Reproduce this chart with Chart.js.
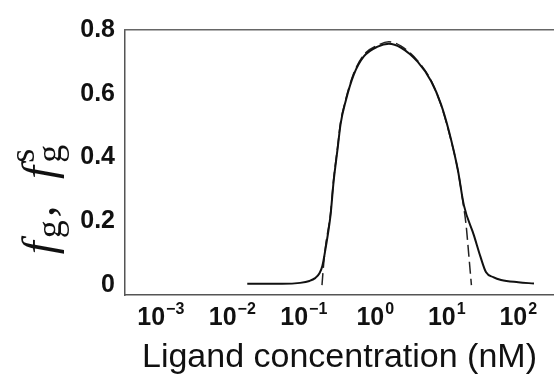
<!DOCTYPE html>
<html>
<head>
<meta charset="utf-8">
<script src="https://cdn.jsdelivr.net/npm/chart.js@4.4.0/dist/chart.umd.min.js"></script>
<style>
  html, body { margin: 0; padding: 0; background: #fff; }
  #wrap { width: 554px; height: 390px; }
</style>
</head>
<body>
<div id="wrap"><canvas id="bandChart" width="554" height="390"></canvas></div>
<script>
// log10 of ligand concentration (nM) and fraction values
const solidLogX = [-1.79, -1.3, -1.05, -0.92, -0.84, -0.78, -0.74, -0.695, -0.625, -0.583, -0.527, -0.485, -0.415, -0.30, -0.16, 0.034, 0.19, 0.357, 0.595, 0.78, 0.92, 1.03, 1.156, 1.24, 1.38, 1.47, 1.55, 1.65, 1.76, 2.0, 2.22];
const solidY    = [0.004, 0.004, 0.007, 0.013, 0.022, 0.037, 0.06, 0.115, 0.22, 0.324, 0.427, 0.505, 0.576, 0.66, 0.717, 0.748, 0.757, 0.745, 0.70, 0.64, 0.567, 0.483, 0.36, 0.25, 0.156, 0.09, 0.04, 0.025, 0.016, 0.009, 0.005];

const dashLogX = [-0.745, -0.72, -0.69, -0.625, -0.583, -0.527, -0.485, -0.415, -0.30, -0.16, 0.034, 0.19, 0.357, 0.595, 0.78, 0.92, 1.03, 1.156, 1.22, 1.27, 1.31, 1.345];
const dashY    = [0.0, 0.07, 0.13, 0.225, 0.33, 0.432, 0.51, 0.58, 0.665, 0.722, 0.752, 0.763, 0.75, 0.703, 0.642, 0.565, 0.48, 0.36, 0.27, 0.19, 0.09, 0.0];

const xTicks = [-3, -2, -1, 0, 1, 2];
const xTickExps = ['−3', '−2', '−1', '0', '1', '2'];
const yTicks = [0, 0.2, 0.4, 0.6, 0.8];
const yTickLabels = ['0', '0.2', '0.4', '0.6', '0.8'];

const sans = '"Liberation Sans", Arial, sans-serif';
const serif = '"Liberation Serif", "DejaVu Serif", serif';

function pairs(xs, ys) {
  return xs.map(function(x, i){ return { x: x, y: ys[i] }; });
}

// x tick labels as 10 with a raised exponent, placed by the x scale
const powerLabels = {
  id: 'powerLabels',
  afterDraw: function(chart) {
    const ctx = chart.ctx;
    const sc = chart.scales.x;
    ctx.save();
    ctx.fillStyle = '#111';
    ctx.textBaseline = 'alphabetic';
    ctx.textAlign = 'left';
    xTicks.forEach(function(v, i){
      ctx.font = 'bold 25px ' + sans;
      const wb = ctx.measureText('10').width;
      ctx.font = 'bold 16px ' + sans;
      const we = ctx.measureText(xTickExps[i]).width;
      const cx = sc.getPixelForValue(v);
      const x0 = cx - (wb + we + 1) / 2;
      const base = sc.top + 30;
      ctx.font = 'bold 25px ' + sans;
      ctx.fillText('10', x0, base);
      ctx.font = 'bold 16px ' + sans;
      ctx.fillText(xTickExps[i], x0 + wb + 1, base - 11);
    });
    ctx.restore();
  }
};

// y title: f_g, f_g^s  (rotated, italic f with upright sub/superscripts)
const yTitlePlugin = {
  id: 'yTitle',
  afterDraw: function(chart) {
    const ctx = chart.ctx;
    const big = 'italic 47px ' + serif;
    const small = '36px ' + serif;
    const parts = [
      { t: 'f', f: big, dy: 0 },
      { t: 'g', f: small, dy: 10 },
      { t: ',  ', f: big, dy: 0 },
      { t: 'f', f: big, dy: 0 },
      { t: 'g', f: small, dy: 10, keep: true },
      { t: 's', f: small, dy: -17 }
    ];
    ctx.save();
    let total = 0;
    parts.forEach(function(p){
      ctx.font = p.f;
      p.w = ctx.measureText(p.t).width;
      if (!p.keep) total += p.w + 3;
    });
    ctx.translate(42, 200);
    ctx.rotate(-Math.PI / 2);
    ctx.fillStyle = '#111';
    ctx.textBaseline = 'middle';
    let x = -total / 2;
    parts.forEach(function(p){
      ctx.font = p.f;
      ctx.fillText(p.t, x, p.dy);
      if (!p.keep) x += p.w + 3;
    });
    ctx.restore();
  }
};

var bandChart = new Chart(document.getElementById('bandChart'), {
  type: 'line',
  data: {
    datasets: [
      {
        label: 'fg',
        data: pairs(solidLogX, solidY),
        borderColor: '#111',
        borderWidth: 2,
        pointRadius: 0,
        fill: false,
        cubicInterpolationMode: 'monotone'
      },
      {
        label: 'fgs',
        data: pairs(dashLogX, dashY),
        borderColor: '#222',
        borderWidth: 1.5,
        borderDash: [12, 5],
        pointRadius: 0,
        fill: false,
        cubicInterpolationMode: 'monotone'
      }
    ]
  },
  options: {
    responsive: false,
    animation: false,
    layout: { padding: { top: 30, right: 0, left: 0, bottom: 0 } },
    plugins: {
      legend: { display: false },
      tooltip: { enabled: false }
    },
    scales: {
      x: {
        type: 'linear',
        min: -3.5,
        max: 2.5,
        afterBuildTicks: function(scale){
          scale.ticks = xTicks.map(function(v){ return { value: v }; });
        },
        afterFit: function(scale){ scale.height = 95; },
        grid: { display: false, drawTicks: false },
        border: { display: true, color: '#555', width: 1.5 },
        ticks: { display: false },
        title: {
          display: true,
          text: 'Ligand concentration (nM)',
          color: '#111',
          padding: { top: 0, bottom: 12 },
          font: { family: sans, size: 34 }
        }
      },
      y: {
        min: -0.031,
        max: 0.8,
        afterBuildTicks: function(scale){
          scale.ticks = yTicks.map(function(v){ return { value: v }; });
        },
        afterFit: function(scale){ scale.width = 125; },
        grid: { display: false, drawTicks: false },
        border: { display: true, color: '#555', width: 1.5 },
        ticks: {
          color: '#111',
          padding: 10,
          font: { family: sans, size: 25, weight: 'bold' },
          callback: function(v){ return yTickLabels[yTicks.indexOf(v)]; }
        }
      },
      xTop: {
        type: 'linear',
        position: 'top',
        min: -3.5,
        max: 2.5,
        display: true,
        afterFit: function(scale){ scale.height = 0; },
        grid: { display: false, drawTicks: false },
        border: { display: true, color: '#666', width: 1.5 },
        ticks: { display: false }
      }
    }
  },
  plugins: [powerLabels, yTitlePlugin]
});
</script>
</body>
</html>
